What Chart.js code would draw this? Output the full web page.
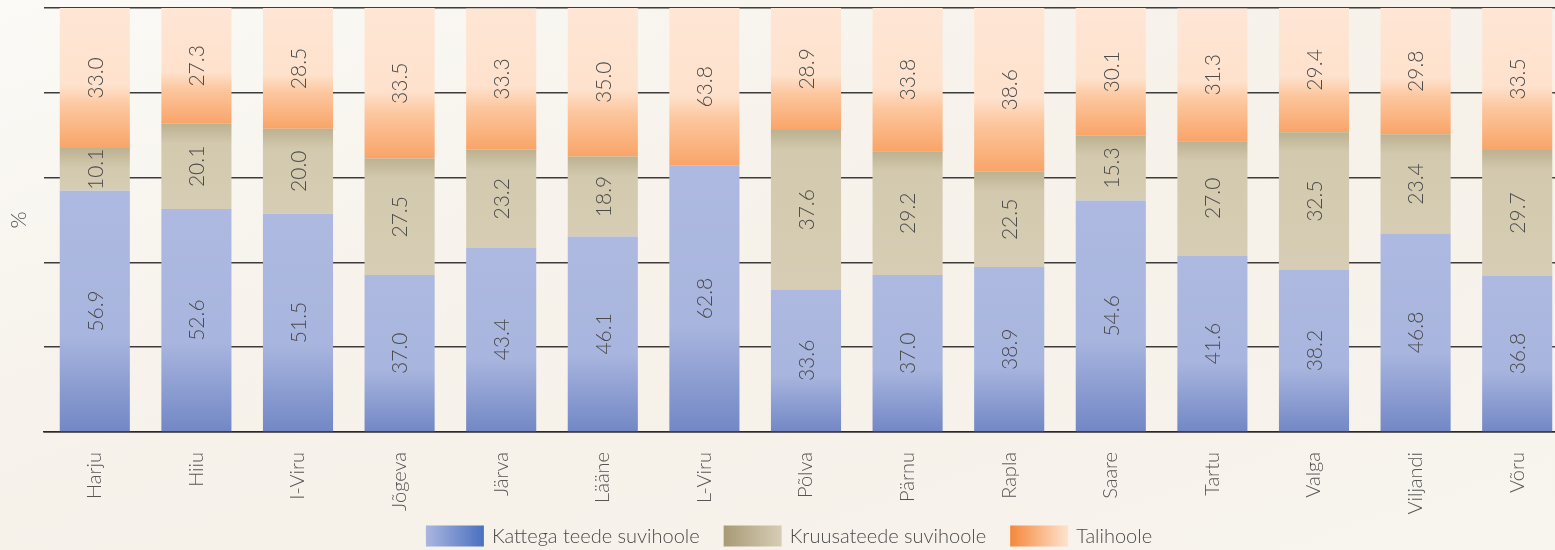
<!DOCTYPE html>
<html>
<head>
<meta charset="utf-8">
<script src="https://cdn.jsdelivr.net/npm/chart.js@4.4.1/dist/chart.umd.min.js"></script>
<style>
  html, body { margin: 0; padding: 0; overflow: hidden; background: #f8f5ef; }
  body { width: 1555px; height: 550px;
    background: linear-gradient(160deg, #fbfaf6 0%, #f7f3ec 35%, #f6f1e9 60%, #f8f5ef 100%); }
  #wrap { position: absolute; left: 0; top: 0; width: 1570px; height: 550px; }
</style>
</head>
<body>
<div id="wrap"><canvas id="c"></canvas></div>
<script>
const categories = ['Harju','Hiiu','I-Viru','Jõgeva','Järva','Lääne','L-Viru','Põlva','Pärnu','Rapla','Saare','Tartu','Valga','Viljandi','Võru'];
const kattega = [56.9,52.6,51.5,37.0,43.4,46.1,62.8,33.6,37.0,38.9,54.6,41.6,38.2,46.8,36.8];
const kruusa  = [10.1,20.1,20.0,27.5,23.2,18.9,null,37.6,29.2,22.5,15.3,27.0,32.5,23.4,29.7];
const tali    = [33.0,27.3,28.5,35.5,33.3,35.0,37.2,28.9,33.8,38.6,30.1,31.3,29.4,29.8,33.5];
// printed texts on the winter segments (as shown in the original)
const taliPrinted = ['33.0','27.3','28.5','33.5','33.3','35.0','63.8','28.9','33.8','38.6','30.1','31.3','29.4','29.8','33.5'];
const seriesNames = ['Kattega teede suvihoole','Kruusateede suvihoole','Talihoole'];
const yTicks = [0,20,40,60,80,100];

const FONT = 'Lato, Roboto, "Open Sans", sans-serif';

function segGradient(kind) {
  return function(ctx) {
    const chart = ctx.chart;
    const y = chart.scales.y;
    if (!y || ctx.type !== 'data') return '#ccc';
    const i = ctx.dataIndex;
    let base = 0;
    for (let d = 0; d < ctx.datasetIndex; d++) base += (chart.data.datasets[d].data[i] || 0);
    const v = chart.data.datasets[ctx.datasetIndex].data[i] || 0;
    const yt = y.getPixelForValue(base + v);
    const yb = y.getPixelForValue(base);
    if (!isFinite(yt) || !isFinite(yb) || yb - yt < 1) return '#ccc';
    const g = chart.ctx.createLinearGradient(0, yt, 0, yb);
    const h = yb - yt;
    if (kind === 0) {
      g.addColorStop(0, '#adb9e0');
      g.addColorStop(0.6, '#a8b5de');
      g.addColorStop(1, '#7287c5');
    } else if (kind === 1) {
      g.addColorStop(0, '#bcb190');
      g.addColorStop(Math.min(0.9, 20 / h), '#d3c9ae');
      g.addColorStop(1, '#d6cdb4');
    } else {
      g.addColorStop(0, '#fee6d5');
      g.addColorStop(0.55, '#fee2cd');
      g.addColorStop(0.7, '#fcc79f');
      g.addColorStop(1, '#f9a468');
    }
    return g;
  };
}

const labelPlugin = {
  id: 'segLabels',
  afterDatasetsDraw(chart) {
    const c = chart.ctx;
    c.save();
    c.font = '300 21px ' + FONT;
    c.fillStyle = '#4a4a4a';
    c.textAlign = 'center';
    c.textBaseline = 'middle';
    chart.data.datasets.forEach((ds, di) => {
      const meta = chart.getDatasetMeta(di);
      meta.data.forEach((el, i) => {
        const v = ds.data[i];
        if (v == null) return;
        const p = el.getProps(['x','y','base'], true);
        const txt = di === 2 ? taliPrinted[i] : v.toFixed(1);
        c.save();
        c.translate(p.x, (p.y + p.base) / 2);
        c.rotate(-Math.PI / 2);
        c.fillText(txt, 0, 1);
        c.restore();
      });
    });
    c.restore();
  }
};

const legendPlugin = {
  id: 'gradLegend',
  afterDraw(chart) {
    const c = chart.ctx;
    c.save();
    c.font = '300 20px ' + FONT;
    const boxW = 58, boxH = 21, gapBT = 8, gapItem = 24;
    const widths = seriesNames.map(n => boxW + gapBT + c.measureText(n).width);
    const total = widths.reduce((a, b) => a + b, 0) + gapItem * (seriesNames.length - 1);
    let x = chart.width / 2 - total / 2 + 4;
    const cy = 536;
    const stops = [['#aab6e0', '#4a70bf'], ['#a89a76', '#d7cdb5'], ['#f5883a', '#fee3cf']];
    seriesNames.forEach((n, k) => {
      const g = c.createLinearGradient(x, 0, x + boxW, 0);
      g.addColorStop(0, stops[k][0]);
      g.addColorStop(1, stops[k][1]);
      c.fillStyle = g;
      c.fillRect(x, cy - boxH / 2, boxW, boxH);
      c.fillStyle = '#4a4a4a';
      c.textAlign = 'left';
      c.textBaseline = 'middle';
      c.fillText(n, x + boxW + gapBT, cy + 1);
      x += widths[k] + gapItem;
    });
    c.restore();
  }
};

new Chart(document.getElementById('c'), {
  type: 'bar',
  data: {
    labels: categories,
    datasets: [
      { label: seriesNames[0], data: kattega, backgroundColor: segGradient(0) },
      { label: seriesNames[1], data: kruusa, backgroundColor: segGradient(1) },
      { label: seriesNames[2], data: tali, backgroundColor: segGradient(2) }
    ]
  },
  options: {
    responsive: true,
    maintainAspectRatio: false,
    animation: false,
    layout: { padding: { top: 8, right: 2, left: 0, bottom: 0 } },
    datasets: { bar: { barPercentage: 0.69, categoryPercentage: 1.0, borderWidth: 0 } },
    plugins: { legend: { display: false }, tooltip: { enabled: false } },
    scales: {
      x: {
        stacked: true,
        grid: { display: false },
        border: { display: true, color: '#2a2a2a', width: 1.5 },
        ticks: { color: '#555', font: { family: FONT, size: 20, weight: '300' }, maxRotation: 90, minRotation: 90, padding: 12 },
        afterFit: s => { s.height = 118; }
      },
      y: {
        stacked: true,
        min: 0, max: 100,
        afterBuildTicks: s => { s.ticks = yTicks.map(v => ({ value: v })); },
        grid: { color: '#3c3c3c', lineWidth: 1.5, drawTicks: false },
        border: { display: false },
        ticks: { display: false },
        title: { display: true, text: '%', color: '#555', font: { family: FONT, size: 22, weight: '300' }, padding: { top: 6, bottom: 0 } },
        afterFit: s => { s.width = 44; }
      }
    }
  },
  plugins: [labelPlugin, legendPlugin]
});
</script>
</body>
</html>
